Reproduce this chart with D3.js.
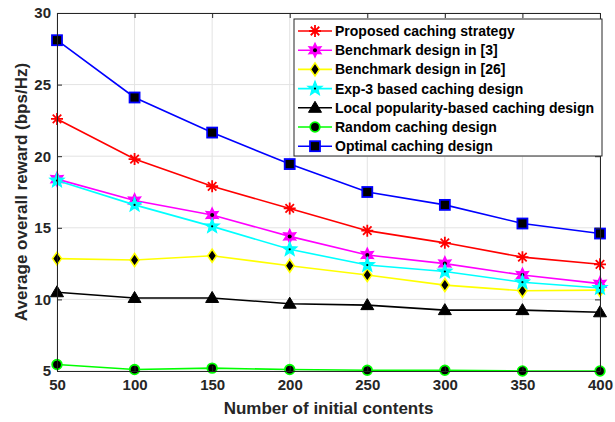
<!DOCTYPE html>
<html>
<head>
<meta charset="utf-8">
<script src="https://cdn.jsdelivr.net/npm/d3@7"></script>
<style>
  html, body { margin: 0; padding: 0; background: #fff; }
  svg { display: block; font-family: "Liberation Sans", Arial, sans-serif; }
</style>
</head>
<body>
<svg id="chart" width="615" height="422"></svg>
<script>
// Number of initial contents (x values)
const contents = [50, 100, 150, 200, 250, 300, 350, 400];

// Average overall reward (bps/Hz) for each design
const proposed   = [22.6, 19.8, 17.9, 16.35, 14.8, 13.95, 12.95, 12.45];
const bench3     = [18.4, 16.9, 15.9, 14.4, 13.1, 12.5, 11.7, 11.1];
const bench26    = [12.85, 12.75, 13.05, 12.35, 11.7, 11.0, 10.6, 10.65];
const exp3       = [18.3, 16.6, 15.1, 13.5, 12.4, 11.95, 11.2, 10.8];
const localPop   = [10.5, 10.1, 10.1, 9.7, 9.6, 9.25, 9.25, 9.1];
const randomDes  = [5.45, 5.1, 5.2, 5.1, 5.05, 5.05, 5.0, 5.0];
const optimal    = [28.1, 24.1, 21.65, 19.45, 17.5, 16.6, 15.3, 14.6];

const xTicks = [50, 100, 150, 200, 250, 300, 350, 400];
const yTicks = [5, 10, 15, 20, 25, 30];

const seriesNames = [
  "Proposed caching strategy",
  "Benchmark design in [3]",
  "Benchmark design in [26]",
  "Exp-3 based caching design",
  "Local popularity-based caching design",
  "Random caching design",
  "Optimal caching design"
];
const seriesValues = [proposed, bench3, bench26, exp3, localPop, randomDes, optimal];
const seriesColors = ["#ff0000", "#ff00ff", "#ffff00", "#00ffff", "#000000", "#00ff00", "#0000ff"];
const seriesMarkers = ["asterisk", "hexagram", "diamond", "pentagram", "triangle", "circle", "square"];

const series = seriesNames.map((name, i) => ({
  name, values: seriesValues[i], color: seriesColors[i], marker: seriesMarkers[i]
}));

const svg = d3.select("#chart");
const margin = { left: 57, right: 15, top: 13, bottom: 51 };
const W = 615, H = 422;
const x = d3.scaleLinear().domain([50, 400]).range([margin.left, W - margin.right]);
const y = d3.scaleLinear().domain([5, 30]).range([H - margin.bottom, margin.top]);

const plot = svg.append("g");

// grid
plot.append("g").selectAll("line").data(xTicks).join("line")
  .attr("x1", d => x(d)).attr("x2", d => x(d))
  .attr("y1", y(5)).attr("y2", y(30))
  .attr("stroke", "#e3e3e3").attr("stroke-width", 1);
plot.append("g").selectAll("line").data(yTicks).join("line")
  .attr("x1", x(50)).attr("x2", x(400))
  .attr("y1", d => y(d)).attr("y2", d => y(d))
  .attr("stroke", "#e3e3e3").attr("stroke-width", 1);

// axes (ticks inward, box on)
const tickLen = 5;
const axisColor = "#262626";
const xAxis = d3.axisBottom(x).tickValues(xTicks).tickSizeInner(-tickLen).tickSizeOuter(0).tickPadding(8);
const yAxis = d3.axisLeft(y).tickValues(yTicks).tickSizeInner(-tickLen).tickSizeOuter(0).tickPadding(6);
const xTop = d3.axisTop(x).tickValues(xTicks).tickSizeInner(-tickLen).tickSizeOuter(0).tickFormat("");
const yRight = d3.axisRight(y).tickValues(yTicks).tickSizeInner(-tickLen).tickSizeOuter(0).tickFormat("");

function styleAxis(g) {
  g.selectAll("path").attr("stroke", axisColor).attr("stroke-width", 1);
  g.selectAll("line").attr("stroke", axisColor).attr("stroke-width", 1);
  g.selectAll("text").attr("fill", "#262626").attr("font-size", "15px").attr("font-weight", "bold")
    .attr("font-family", "Liberation Sans, Arial, sans-serif");
}

svg.append("g").attr("transform", `translate(0,${y(5)})`).call(xAxis).call(styleAxis);
svg.append("g").attr("transform", `translate(${x(50)},0)`).call(yAxis).call(styleAxis);
svg.append("g").attr("transform", `translate(0,${y(30)})`).call(xTop).call(styleAxis);
svg.append("g").attr("transform", `translate(${x(400)},0)`).call(yRight).call(styleAxis);

// axis labels
svg.append("text")
  .attr("x", (x(50) + x(400)) / 2).attr("y", 414)
  .attr("text-anchor", "middle").attr("font-size", "17px").attr("font-weight", "bold")
  .attr("fill", "#262626").text("Number of initial contents");
svg.append("text")
  .attr("transform", `translate(27,${(y(5) + y(30)) / 2}) rotate(-90)`)
  .attr("text-anchor", "middle").attr("font-size", "17px").attr("font-weight", "bold")
  .attr("fill", "#262626").text("Average overall reward (bps/Hz)");

// marker drawing
function starPath(points, rOuter, rInner) {
  const pts = [];
  for (let i = 0; i < points * 2; i++) {
    const r = i % 2 === 0 ? rOuter : rInner;
    const a = -Math.PI / 2 + i * Math.PI / points;
    pts.push([r * Math.cos(a), r * Math.sin(a)]);
  }
  return "M" + pts.map(p => p[0].toFixed(2) + "," + p[1].toFixed(2)).join("L") + "Z";
}

function drawMarker(g, type, color, cx, cy) {
  const m = g.append("g").attr("transform", `translate(${cx},${cy})`);
  if (type === "asterisk") {
    const r = 6;
    const d = r * Math.SQRT1_2;
    m.append("path")
      .attr("d", `M${-r},0L${r},0M0,${-r}L0,${r}M${-d},${-d}L${d},${d}M${-d},${d}L${d},${-d}`)
      .attr("stroke", color).attr("stroke-width", 1.8).attr("fill", "none");
  } else if (type === "hexagram") {
    m.append("path").attr("d", starPath(6, 7, 3.6))
      .attr("fill", color).attr("stroke", color).attr("stroke-width", 1.3);
    m.append("circle").attr("r", 2).attr("fill", "#000");
  } else if (type === "pentagram") {
    m.append("path").attr("d", starPath(5, 7.5, 3.2))
      .attr("fill", color).attr("stroke", color).attr("stroke-width", 1.2);
    m.append("circle").attr("r", 1.1).attr("fill", "#000");
  } else if (type === "diamond") {
    m.append("path").attr("d", "M0,-6.5L4.5,0L0,6.5L-4.5,0Z")
      .attr("fill", "#000").attr("stroke", color).attr("stroke-width", 1.6);
  } else if (type === "triangle") {
    m.append("path").attr("d", "M0,-6.5L6.5,4.5L-6.5,4.5Z")
      .attr("fill", "#000").attr("stroke", "#000").attr("stroke-width", 1);
  } else if (type === "circle") {
    m.append("circle").attr("r", 4.8)
      .attr("fill", "#000").attr("stroke", color).attr("stroke-width", 1.8);
  } else if (type === "square") {
    m.append("rect").attr("x", -5).attr("y", -5).attr("width", 10).attr("height", 10)
      .attr("fill", "#000").attr("stroke", color).attr("stroke-width", 1.8);
  }
}

const line = d3.line().x((d, i) => x(contents[i])).y(d => y(d));

// lines first, then markers, in series order
series.forEach(s => {
  plot.append("path").datum(s.values)
    .attr("d", line).attr("fill", "none")
    .attr("stroke", s.color).attr("stroke-width", 1.6);
  const mg = plot.append("g");
  s.values.forEach((v, i) => drawMarker(mg, s.marker, s.color, x(contents[i]), y(v)));
});

// legend
const lg = svg.append("g");
const lgX = 294, lgY = 19, lgW = 308, lgH = 137;
lg.append("rect").attr("x", lgX).attr("y", lgY).attr("width", lgW).attr("height", lgH)
  .attr("fill", "#fff").attr("stroke", "#262626").attr("stroke-width", 1);
const rowH = 19.2;
series.forEach((s, i) => {
  const cy = 31 + i * rowH;
  lg.append("line").attr("x1", 298).attr("x2", 332).attr("y1", cy).attr("y2", cy)
    .attr("stroke", s.color).attr("stroke-width", 1.6);
  drawMarker(lg, s.marker, s.color, 315, cy);
  lg.append("text").attr("x", 335).attr("y", cy).attr("dy", "0.35em")
    .attr("font-size", "14px").attr("font-weight", "bold").attr("fill", "#000")
    .text(s.name);
});
</script>
</body>
</html>
